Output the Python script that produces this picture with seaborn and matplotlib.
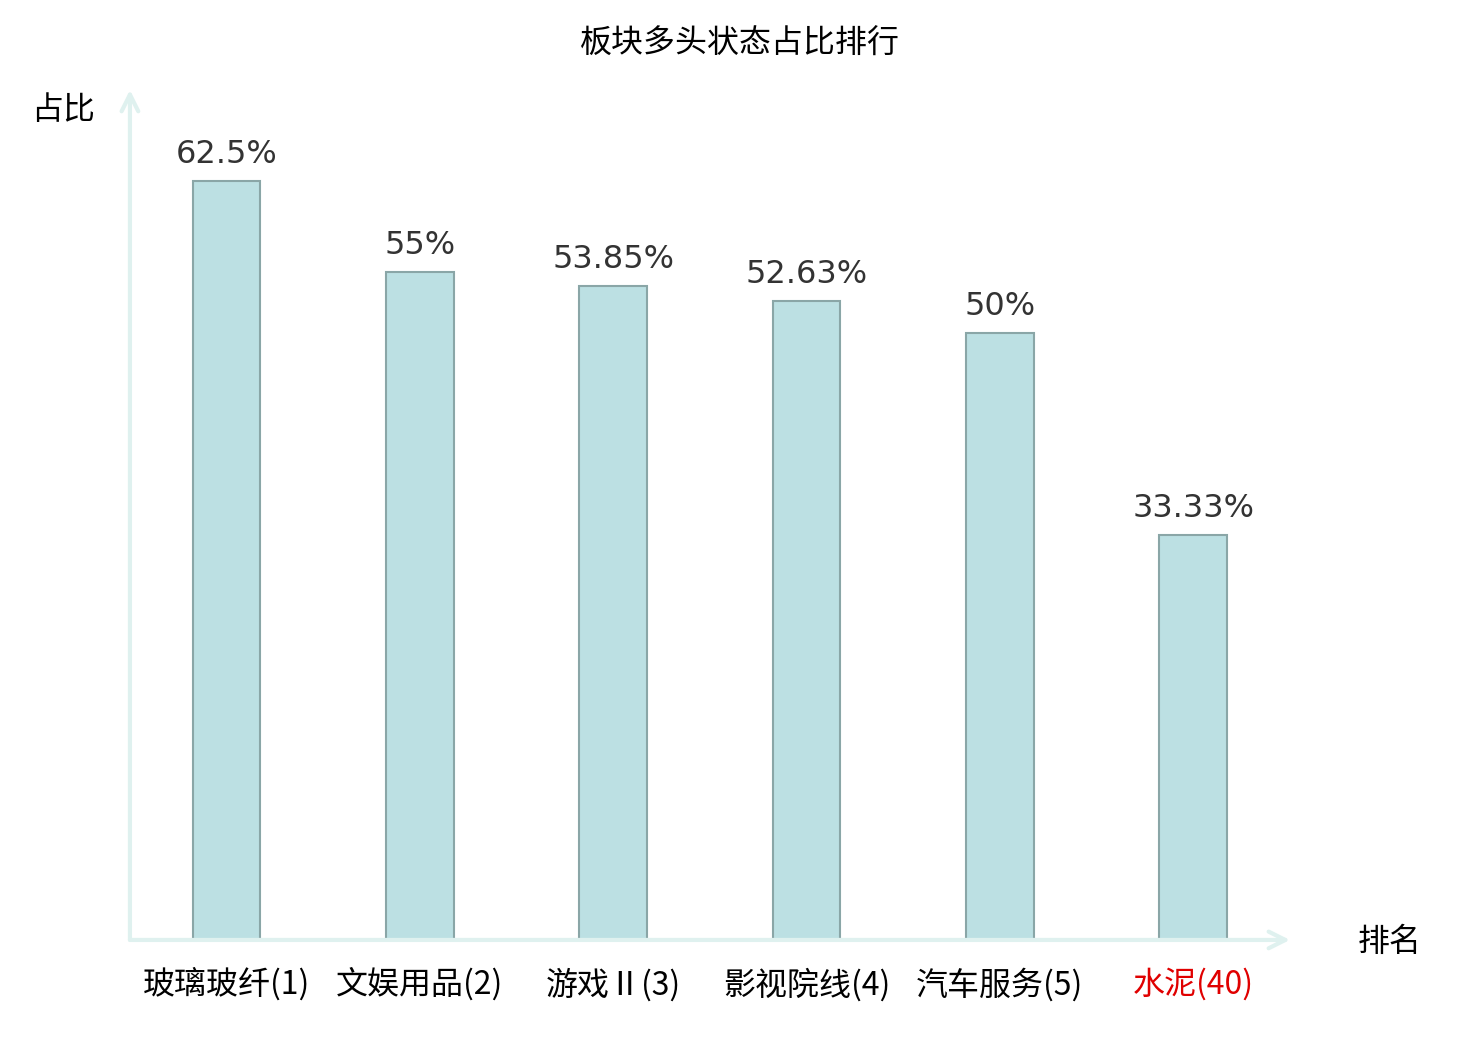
import pandas as pd
import seaborn as sns
import matplotlib.pyplot as plt

# chart data
sectors = ["玻璃玻纤(1)", "文娱用品(2)", "游戏Ⅱ(3)", "影视院线(4)", "汽车服务(5)", "水泥(40)"]
ratios = [62.5, 55, 53.85, 52.63, 50, 33.33]
value_labels = ["62.5%", "55%", "53.85%", "52.63%", "50%", "33.33%"]

df = pd.DataFrame({"sector": sectors, "ratio": ratios})

sns.set_theme(style="white")
plt.rcParams["font.family"] = ["Noto Sans CJK SC", "DejaVu Sans"]

fig = plt.figure(figsize=(14.8, 10.4), dpi=100)
ax = fig.add_axes([0.0878, 0.0962, 0.7838, 0.8173])

sns.barplot(data=df, x="sector", y="ratio", color="#bce0e3", saturation=1,
            width=0.35, edgecolor="#8aa6a7", linewidth=1.5, ax=ax)

for i, lab in enumerate(value_labels):
    ax.annotate(lab, (i, ratios[i]), xytext=(0, 8), textcoords="offset points",
                ha="center", va="bottom", fontsize=23, color="#333333",
                family="DejaVu Sans")

ax.set_xlim(-0.5, 5.5)
ax.set_ylim(0, 70)
ax.set_yticks([])
ax.set_xlabel("")
ax.set_ylabel("")
for s in ax.spines.values():
    s.set_visible(False)

ax.tick_params(axis="x", length=0, pad=20, labelsize=23)
for t in ax.get_xticklabels():
    if t.get_text().startswith("水泥"):
        t.set_color("#e00000")
    else:
        t.set_color("black")

# arrow axes
axis_col = "#dff1ef"
ax.annotate("", xy=(1.0, 0), xytext=(0, 0), xycoords="axes fraction",
            arrowprops=dict(arrowstyle="->,head_length=1.0,head_width=0.5",
                            color=axis_col, lw=3, shrinkA=0, shrinkB=0))
ax.annotate("", xy=(0, 1.0), xytext=(0, 0), xycoords="axes fraction",
            arrowprops=dict(arrowstyle="->,head_length=1.0,head_width=0.5",
                            color=axis_col, lw=3, shrinkA=0, shrinkB=0))

fig.text(0.5, 0.958, "板块多头状态占比排行", ha="center", va="center", fontsize=23, color="black")
fig.text(0.0426, 0.894, "占比", ha="center", va="center", fontsize=23, color="black")
fig.text(0.9392, 0.094, "排名", ha="center", va="center", fontsize=23, color="black")

fig.savefig("out.png", dpi=100)
